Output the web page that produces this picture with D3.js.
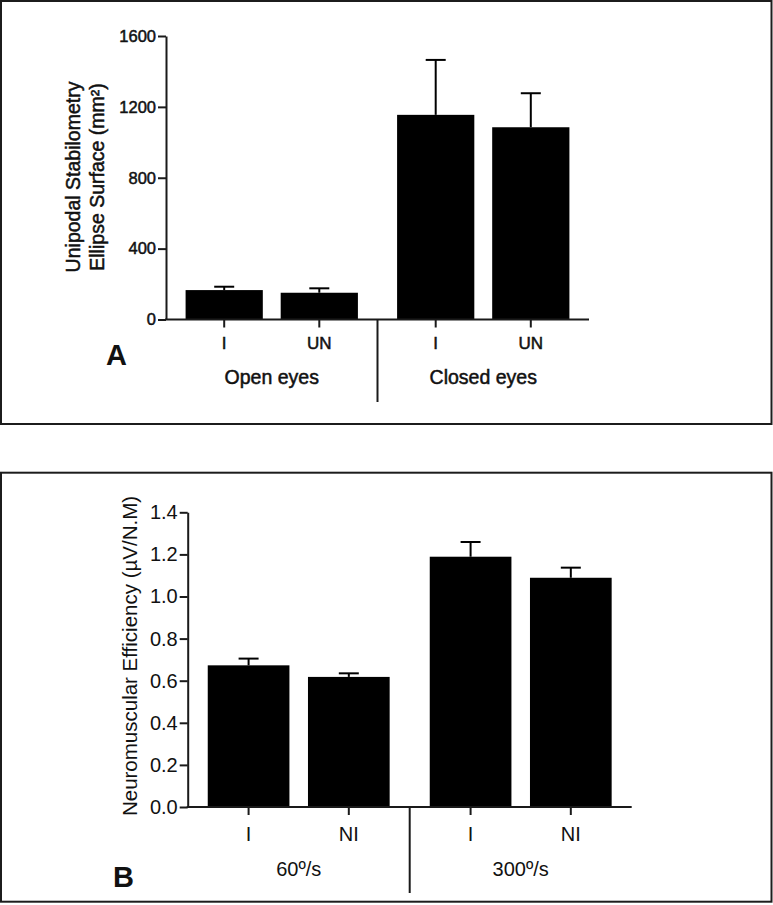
<!DOCTYPE html>
<html>
<head>
<meta charset="utf-8">
<script src="https://cdn.jsdelivr.net/npm/d3@7"></script>
<style>
  html, body { margin: 0; padding: 0; background: #fff; }
  svg { display: block; }
  text { font-family: "Liberation Sans", Arial, Helvetica, sans-serif; fill: #111; }
</style>
</head>
<body>
<svg id="chart" width="773" height="905"></svg>
<script>
// ---------- Panel A data ----------
const groupsA = ["Open eyes", "Closed eyes"];
const categoriesA = ["I", "UN"];
const meansA = [166, 151, 1155, 1085];
const errorsA = [19, 25, 310, 192];
const ticksA = [0, 400, 800, 1200, 1600];
const titleA = ["Unipodal Stabilometry", "Ellipse Surface (mm²)"];

// ---------- Panel B data ----------
const groupsB = ["60º/s", "300º/s"];
const categoriesB = ["I", "NI"];
const meansB = [0.673, 0.618, 1.189, 1.089];
const errorsB = [0.032, 0.017, 0.070, 0.048];
const ticksB = [0, 0.2, 0.4, 0.6, 0.8, 1.0, 1.2, 1.4];
const titleB = ["Neuromuscular Efficiency (µV/N.M)"];

const svg = d3.select("#chart");
const REG = '"Liberation Sans", Arial, Helvetica, sans-serif';
const NARROW = '"Liberation Sans Narrow", "Arial Narrow", "Liberation Sans", Arial, sans-serif';

function drawPanel(cfg) {
  const g = svg.append("g");

  // panel frame
  g.append("rect")
    .attr("x", cfg.frame[0]).attr("y", cfg.frame[1])
    .attr("width", cfg.frame[2]).attr("height", cfg.frame[3])
    .attr("fill", "none").attr("stroke", "#1c1c1c").attr("stroke-width", 2);

  const x0 = d3.scaleBand().domain(cfg.groups).range([cfg.left, cfg.right]).padding(0);
  const x1 = d3.scaleBand().domain(cfg.categories).range([0, x0.bandwidth()])
    .paddingInner(cfg.padIn).paddingOuter(cfg.padOut);
  const y = d3.scaleLinear().domain([0, cfg.max]).range([cfg.bottom, cfg.top]);

  const rows = [];
  cfg.groups.forEach((gr, gi) => cfg.categories.forEach((c, ci) => {
    const k = gi * cfg.categories.length + ci;
    rows.push({ group: gr, cat: c, v: cfg.means[k], e: cfg.errors[k] });
  }));
  const cx = d => x0(d.group) + x1(d.cat) + x1.bandwidth() / 2;

  // bars
  g.selectAll("rect.bar").data(rows).join("rect")
    .attr("class", "bar")
    .attr("x", d => x0(d.group) + x1(d.cat))
    .attr("y", d => y(d.v))
    .attr("width", x1.bandwidth())
    .attr("height", d => y(0) - y(d.v))
    .attr("fill", "#000");

  // error bars (upper only)
  g.selectAll("line.err").data(rows).join("line")
    .attr("class", "err")
    .attr("x1", cx).attr("x2", cx)
    .attr("y1", d => y(d.v)).attr("y2", d => y(d.v + d.e))
    .attr("stroke", "#000").attr("stroke-width", 2);
  g.selectAll("line.cap").data(rows).join("line")
    .attr("class", "cap")
    .attr("x1", d => cx(d) - cfg.capW / 2).attr("x2", d => cx(d) + cfg.capW / 2)
    .attr("y1", d => y(d.v + d.e)).attr("y2", d => y(d.v + d.e))
    .attr("stroke", "#000").attr("stroke-width", 2);

  // y axis
  const yAxis = d3.axisLeft(y).tickValues(cfg.ticks).tickSize(cfg.yTickLen)
    .tickSizeOuter(0).tickPadding(2).tickFormat(cfg.fmt);
  const ya = g.append("g").attr("transform", `translate(${cfg.left},0)`).call(yAxis);
  ya.select(".domain").attr("stroke", "#1a1a1a").attr("stroke-width", 2);
  ya.selectAll(".tick line").attr("stroke", "#1a1a1a").attr("stroke-width", 2);
  ya.selectAll(".tick text")
    .style("font-family", cfg.tickFamily)
    .style("font-size", cfg.tickFont + "px")
    .attr("fill", "#111").attr("stroke", "#111").attr("stroke-width", cfg.textStroke);

  // x axis baseline
  g.append("line")
    .attr("x1", cfg.left - 1).attr("x2", cfg.right)
    .attr("y1", y(0)).attr("y2", y(0))
    .attr("stroke", "#1a1a1a").attr("stroke-width", 2);

  // category ticks and labels
  g.selectAll("line.xt").data(rows).join("line")
    .attr("class", "xt")
    .attr("x1", cx).attr("x2", cx)
    .attr("y1", y(0)).attr("y2", y(0) + cfg.xTickLen)
    .attr("stroke", "#1a1a1a").attr("stroke-width", 2);
  g.selectAll("text.xl").data(rows).join("text")
    .attr("class", "xl")
    .attr("x", cx).attr("y", cfg.catBase)
    .attr("text-anchor", "middle")
    .style("font-family", cfg.tickFamily)
    .style("font-size", cfg.catFont + "px")
    .attr("stroke", "#111").attr("stroke-width", cfg.textStroke)
    .text(d => d.cat);

  // group labels
  g.selectAll("text.gl").data(cfg.groups).join("text")
    .attr("class", "gl")
    .attr("x", d => x0(d) + x0.bandwidth() / 2).attr("y", cfg.groupBase)
    .attr("text-anchor", "middle")
    .style("font-family", REG)
    .style("font-size", cfg.groupFont + "px")
    .attr("stroke", "#111").attr("stroke-width", cfg.textStroke)
    .text(d => d);

  // group separator
  const sx = x0(cfg.groups[1]);
  g.append("line")
    .attr("x1", sx).attr("x2", sx)
    .attr("y1", y(0)).attr("y2", cfg.sepBottom)
    .attr("stroke", "#1a1a1a").attr("stroke-width", 2);

  // panel letter
  g.append("text")
    .attr("x", cfg.letterX).attr("y", cfg.letterY)
    .style("font-family", REG)
    .style("font-size", cfg.letterFont + "px").style("font-weight", "bold")
    .attr("fill", "#000")
    .text(cfg.letter);

  // y title
  cfg.title.forEach((t, i) => {
    g.append("text")
      .attr("transform", `translate(${cfg.titleX[i]},${cfg.titleY}) rotate(-90)`)
      .attr("text-anchor", "middle")
      .style("font-family", REG)
      .style("font-size", cfg.titleFont + "px")
      .attr("stroke", "#111").attr("stroke-width", cfg.textStroke)
      .text(t);
  });
}

drawPanel({
  frame: [1, 1, 770.5, 423],
  groups: groupsA, categories: categoriesA, means: meansA, errors: errorsA,
  ticks: ticksA, fmt: d3.format("d"), max: 1600,
  left: 166, right: 589, top: 36, bottom: 319.5,
  padIn: 0.188, padOut: 0.206, capW: 20,
  yTickLen: 8, xTickLen: 8, tickFamily: REG, tickFont: 16.5, catFont: 17, groupFont: 19.5,
  catBase: 348.5, groupBase: 383.5, sepBottom: 402,
  letter: "A", letterX: 106, letterY: 365, letterFont: 29,
  title: titleA, titleX: [79.5, 103.5], titleY: 177, titleFont: 19.5,
  textStroke: 0.5
});

drawPanel({
  frame: [1, 472.7, 770.5, 429],
  groups: groupsB, categories: categoriesB, means: meansB, errors: errorsB,
  ticks: ticksB, fmt: d3.format(".1f"), max: 1.4,
  left: 187.7, right: 631.7, top: 512.3, bottom: 807,
  padIn: 0.185, padOut: 0.2, capW: 20,
  yTickLen: 8, xTickLen: 8, tickFamily: NARROW, tickFont: 20, catFont: 20, groupFont: 20,
  catBase: 840.5, groupBase: 876, sepBottom: 893,
  letter: "B", letterX: 113, letterY: 887, letterFont: 29,
  title: titleB, titleX: [136.5], titleY: 656, titleFont: 20.5,
  textStroke: 0
});
</script>
</body>
</html>
